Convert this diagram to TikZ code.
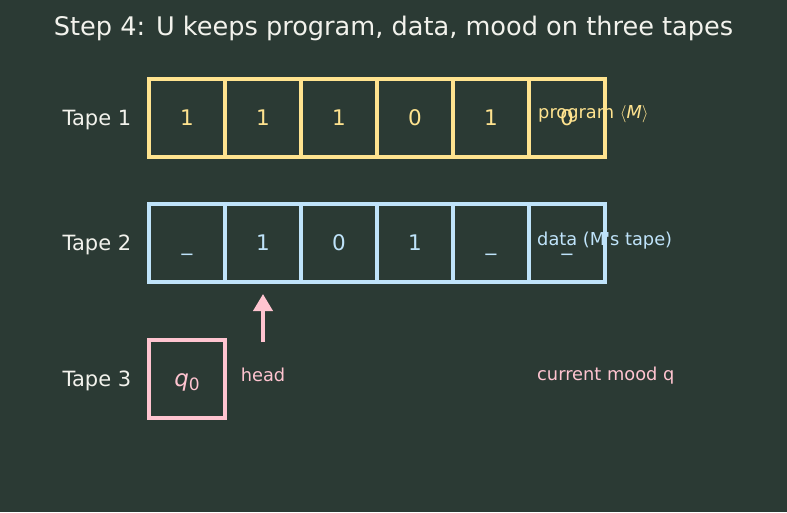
\documentclass[tikz,border=0pt]{standalone}
\usepackage{fontspec}
\setmainfont{DejaVu Sans}
\usetikzlibrary{arrows.meta}
\definecolor{bg}{HTML}{2B3A34}
\definecolor{ylw}{HTML}{FFE38F}
\definecolor{blu}{HTML}{BFE3FA}
\definecolor{pnk}{HTML}{FFC4D0}
\definecolor{wht}{HTML}{F2F2EC}
\tikzset{
  cell/.style={draw=#1, line width=4pt, minimum width=76pt, minimum height=78pt, inner sep=0pt, text=#1, font=\fontsize{21.5}{26}\selectfont, text height=15.7pt, text depth=0pt},
  tapelbl/.style={text=wht, font=\fontsize{21}{25}\selectfont, anchor=base},
  note/.style={anchor=base west, text=#1, font=\fontsize{17.8}{21}\selectfont, inner sep=0pt}
}
\begin{document}
\begin{tikzpicture}[x=1pt,y=-1pt]
\fill[bg] (0,0) rectangle (787,512);
\useasboundingbox (0,0) rectangle (787,512);
\node[text=wht, font=\fontsize{25.6}{30}\selectfont, anchor=base] (title) at (393.5,35) {Step 4: U keeps program, data, mood on three tapes};
% tape 1
\node[tapelbl] (l1) at (97,125.5) {Tape 1};
\foreach \v [count=\i from 0] in {1,1,1,0,1,0} {
  \node[cell=ylw] (a\i) at (187+76*\i,118) {\v};
}
% tape 2
\node[tapelbl] (l2) at (97,250.5) {Tape 2};
\foreach \v [count=\i from 0] in {\_,1,0,1,\_,\_} {
  \node[cell=blu] (b\i) at (187+76*\i,243) {\v};
}
% tape 3
\node[tapelbl] (l3) at (97,386.5) {Tape 3};
\node[cell=pnk] (c0) at (187,379) {{\fontsize{23}{26}\selectfont\textit{q}}\raisebox{-0.35ex}{\fontsize{17}{18}\selectfont 0}};
% notes
\node[note=ylw] (n1) at (538,118.5) {program {\fontsize{19}{21}\selectfont$\langle$}\textit{M}{\fontsize{19}{21}\selectfont$\rangle$}};
\node[note=blu] (n2) at (537,245) {data (M\textquotesingle s tape)};
\node[note=pnk] (n3) at (537,380) {current mood q};
\node[text=pnk, font=\fontsize{17.8}{21}\selectfont, anchor=base, inner sep=0pt] (hd) at (263,381) {head};
\coordinate (hs) at (263,342);
\coordinate (he) at (263,294);
\draw[pnk, line width=4pt, -{Triangle[length=17pt,width=19pt]}] (hs) -- (he);
\end{tikzpicture}
\end{document}
